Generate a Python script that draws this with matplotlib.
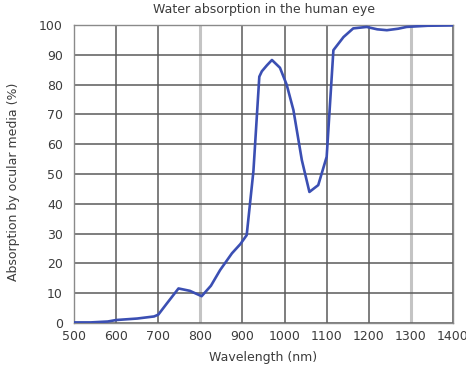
import matplotlib.pyplot as plt

plt.rcParams["font.family"] = ["DejaVu Sans"]

# curve (nm, % absorbed)
wavelength = [500, 540, 580, 600, 650, 690, 700, 720, 748, 775, 803, 825, 847, 875,
              895, 910, 926, 940, 946, 958, 970, 989, 1005, 1021, 1041, 1059, 1080,
              1100, 1116, 1140, 1163, 1195, 1220, 1243, 1270, 1290, 1340, 1400]
absorption = [0.2, 0.2, 0.5, 1.0, 1.5, 2.2, 2.8, 6.5, 11.6, 10.8, 9.0, 12.5, 17.8, 23.4,
              26.5, 29.5, 51, 82.7, 84.5, 86.5, 88.3, 85.7, 80, 71.5, 54.7, 44.0, 46.3,
              55.8, 91.6, 96.0, 98.9, 99.4, 98.6, 98.3, 98.8, 99.4, 99.8, 99.9]

x_ticks = list(range(500, 1401, 100))
y_ticks = list(range(0, 101, 10))

fig = plt.figure(figsize=(4.66, 3.78), dpi=100)
ax = fig.add_axes([0.159, 0.1455, 0.813, 0.788])

text_color = "#3c3c3c"
for x in x_ticks:
    light = x in (800, 1300)
    ax.axvline(x, color="#c4c4c4" if light else "#5a5a5a",
               lw=2.2 if light else 1.1, zorder=1)
for y in y_ticks:
    ax.axhline(y, color="#5a5a5a", lw=1.1, zorder=1)

ax.plot(wavelength, absorption, color="#3b4fb3", lw=1.9, zorder=3)

ax.set_xlim(500, 1400)
ax.set_ylim(0, 100)
ax.set_xticks(x_ticks)
ax.set_yticks(y_ticks)
ax.tick_params(length=0, labelsize=9, colors=text_color)
ax.tick_params(axis="x", pad=5)
ax.tick_params(axis="y", pad=8)
for s in ax.spines.values():
    s.set_color("#8a8a8a")
    s.set_linewidth(1.0)

ax.set_title("Water absorption in the human eye", fontsize=9, color=text_color, pad=9)
ax.set_xlabel("Wavelength (nm)", fontsize=9, color=text_color, labelpad=6)
ax.set_ylabel("Absorption by ocular media (%)", fontsize=9, color=text_color)
ax.yaxis.set_label_coords(-0.142, 0.473)

fig.savefig("out.png", dpi=100)
